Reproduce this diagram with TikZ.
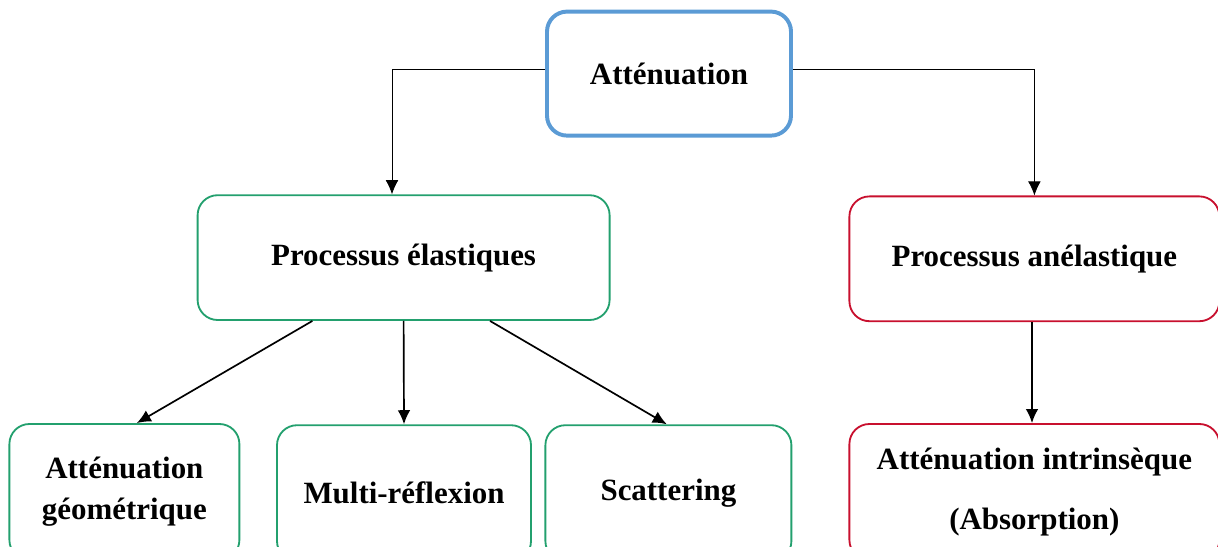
\documentclass[tikz,border=0pt]{standalone}
\usepackage{fontspec}
\setmainfont{Liberation Serif}
\usepackage{xcolor}
\usetikzlibrary{arrows.meta,positioning}
\definecolor{attblue}{RGB}{91,155,213}
\definecolor{elagreen}{RGB}{35,160,110}
\definecolor{anered}{RGB}{200,16,46}
\tikzset{>={Latex[length=10pt,width=9pt]}}

\begin{document}
\begin{tikzpicture}[
              box/.style={rounded corners=0.5cm, align=center, inner sep=0pt, font=\fontsize{22}{28}\selectfont\bfseries},
              topbox/.style={box, draw=attblue, line width=2.8pt, minimum width=6.1cm, minimum height=3.1cm},
              greenbox/.style={box, draw=elagreen, line width=1.3pt, minimum height=3.12cm},
              redbox/.style={box, draw=anered, line width=1.3pt, minimum height=3.12cm},
              thinlink/.style={line width=0.6pt, ->},
              link/.style={line width=1.2pt, ->},
             ]

\clip (0,0) rectangle (30.45,-13.65);

% top
\node[topbox] (att) at (16.725,-1.84) {Atténuation};

% second row
\node[greenbox, minimum width=10.3cm] (elast) at (10.09,-6.44) {Processus élastiques};
\node[redbox, minimum width=9.25cm] (anel) at (25.86,-6.47) {Processus anélastique};

% bottom row
\node[greenbox, minimum width=5.75cm, minimum height=3.4cm] (geo) at (3.11,-12.3) {Atténuation\\[1pt]géométrique};
\node[greenbox, minimum width=6.35cm, minimum height=3.4cm] (multi) at (10.1,-12.33) {Multi-réflexion};
\node[greenbox, minimum width=6.15cm, minimum height=3.4cm] (scat) at (16.71,-12.33) {Scattering};
\node[redbox, minimum width=9.25cm, minimum height=3.4cm] (intr) at (25.86,-12.3) {Atténuation intrinsèque\\[15pt](Absorption)};

% connectors
\draw[thinlink] ([yshift=0.1cm]att.west) -| ([xshift=-0.29cm]elast.north);
\draw[thinlink] ([yshift=0.1cm]att.east) -| (anel.north);
\draw[link] ([xshift=-2.28cm]elast.south) -- ([xshift=0.31cm]geo.north);
\draw[link] (elast.south) -- (multi.north);
\draw[link] ([xshift=2.16cm]elast.south) -- ([xshift=-0.04cm]scat.north);
\draw[link] ([xshift=-0.06cm]anel.south) -- ([xshift=-0.06cm]intr.north);
\end{tikzpicture}
\end{document}
